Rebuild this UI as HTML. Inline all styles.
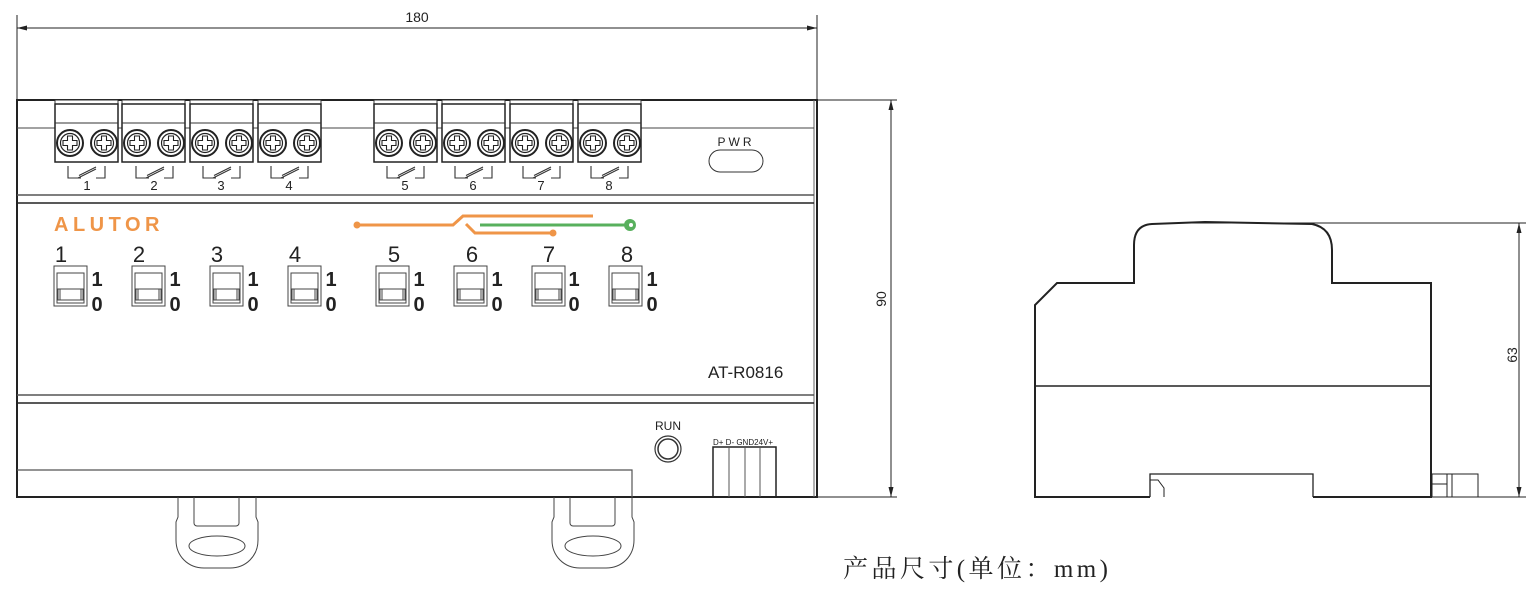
<!DOCTYPE html>
<html><head><meta charset="utf-8"><style>
html,body{margin:0;padding:0;background:#fff;width:1540px;height:592px;overflow:hidden}
svg{display:block}
text{font-family:"Liberation Sans",sans-serif;fill:#222}
</style></head><body>
<svg width="1540" height="592" viewBox="0 0 1540 592" xmlns="http://www.w3.org/2000/svg">
<defs>
<g id="term">
  <rect x="0" y="100" width="63" height="5" fill="#fff" stroke="#333" stroke-width="1"/>
  <rect x="0" y="104" width="63" height="58" fill="#fff" stroke="#222" stroke-width="1.5"/>
  <line x1="0" y1="123" x2="63" y2="123" stroke="#333"/>
  <g id="screw">
    <circle cx="15" cy="143" r="13" fill="#fff" stroke="#222" stroke-width="2"/>
    <circle cx="15" cy="143" r="9.5" fill="none" stroke="#222" stroke-width="1.2"/>
    <path d="M12.5 136h5v4.5h4.5v5h-4.5v4.5h-5v-4.5h-4.5v-5h4.5z" fill="none" stroke="#222" stroke-width="1.1"/>
  </g>
  <use href="#screw" x="34"/>
</g>
<g id="relay" fill="none" stroke="#333" stroke-width="1.1">
  <path d="M0 166v12h13"/>
  <path d="M10 178l18-9M11 175.5l17-8.5"/>
  <path d="M37 166v12h-9"/>
</g>
<g id="sw" fill="none" stroke="#444" stroke-width="1">
  <rect x="0" y="266" width="33" height="40"/>
  <rect x="3" y="273" width="27" height="30"/>
  <rect x="4" y="289" width="25" height="11"/>
  <line x1="6" y1="289" x2="6" y2="300"/><line x1="27" y1="289" x2="27" y2="300"/>
</g>
<g id="clip" fill="none" stroke="#444" stroke-width="1">
  <path d="M2 497v20l-2 5v18c0 16 12 28 28 28h26c16 0 28-12 28-28v-18l-2-5v-20"/>
  <path d="M18 497v26a3 3 0 0 0 3 3h39a3 3 0 0 0 3-3v-26"/>
  <ellipse cx="41" cy="546" rx="28" ry="10"/>
</g>
</defs>

<g stroke="#222" stroke-width="1" fill="none">
  <line x1="17" y1="15" x2="17" y2="100"/>
  <line x1="817" y1="15" x2="817" y2="100"/>
  <line x1="17" y1="28" x2="817" y2="28"/>
</g>
<path d="M17 28l10-2.5v5z M817 28l-10-2.5v5z" fill="#222"/>
<text x="417" y="22" font-size="14" text-anchor="middle">180</text>

<g fill="none" stroke="#222">
  <rect x="17" y="100" width="800" height="397" stroke-width="2"/>
  <line x1="814" y1="100" x2="814" y2="497" stroke="#666"/>
  <line x1="17" y1="128" x2="814" y2="128" stroke="#444"/>
  <line x1="17" y1="195" x2="814" y2="195" stroke="#555" stroke-width="1.5"/>
  <line x1="17" y1="203" x2="814" y2="203" stroke-width="1.5"/>
  <line x1="17" y1="395" x2="814" y2="395" stroke="#555" stroke-width="1.5"/>
  <line x1="17" y1="403" x2="814" y2="403" stroke-width="1.5"/>
  <path d="M17 470H632V497" stroke="#555" stroke-width="1.2"/>
</g>

<use href="#term" x="55"/><use href="#term" x="122"/><use href="#term" x="190"/><use href="#term" x="258"/>
<use href="#term" x="374"/><use href="#term" x="442"/><use href="#term" x="510"/><use href="#term" x="578"/>

<use href="#relay" x="68"/><use href="#relay" x="136"/><use href="#relay" x="203"/><use href="#relay" x="271"/>
<use href="#relay" x="387"/><use href="#relay" x="455"/><use href="#relay" x="523"/><use href="#relay" x="591"/>
<g font-size="13" text-anchor="middle">
<text x="87" y="190">1</text><text x="154" y="190">2</text><text x="221" y="190">3</text><text x="289" y="190">4</text>
<text x="405" y="190">5</text><text x="473" y="190">6</text><text x="541" y="190">7</text><text x="609" y="190">8</text>
</g>

<text x="736" y="146" font-size="12" text-anchor="middle" letter-spacing="3">PWR</text>
<rect x="709" y="150" width="54" height="22" rx="11" fill="none" stroke="#333"/>

<text x="54" y="231" font-size="20" font-weight="bold" letter-spacing="4.5" style="fill:#ef9548">ALUTOR</text>

<g fill="none" stroke-width="3">
  <path d="M357 225H453L463 216H593" stroke="#ef9548"/>
  <path d="M466 224L475 233H553" stroke="#ef9548"/>
  <path d="M480 225H630" stroke="#58b05d"/>
</g>
<circle cx="357" cy="225" r="3.5" fill="#ef9548"/>
<circle cx="553" cy="233" r="3.5" fill="#ef9548"/>
<circle cx="630" cy="225" r="6" fill="#58b05d"/>
<circle cx="631" cy="225" r="2" fill="#fff"/>

<g font-size="22" text-anchor="middle">
<text x="61" y="262">1</text><text x="139" y="262">2</text><text x="217" y="262">3</text><text x="295" y="262">4</text>
<text x="394" y="262">5</text><text x="472" y="262">6</text><text x="549" y="262">7</text><text x="627" y="262">8</text>
</g>
<use href="#sw" x="54"/><use href="#sw" x="132"/><use href="#sw" x="210"/><use href="#sw" x="288"/>
<use href="#sw" x="376"/><use href="#sw" x="454"/><use href="#sw" x="532"/><use href="#sw" x="609"/>
<g font-size="20" font-weight="bold" text-anchor="middle">
<text x="97" y="286">1</text><text x="97" y="311">0</text>
<text x="175" y="286">1</text><text x="175" y="311">0</text>
<text x="253" y="286">1</text><text x="253" y="311">0</text>
<text x="331" y="286">1</text><text x="331" y="311">0</text>
<text x="419" y="286">1</text><text x="419" y="311">0</text>
<text x="497" y="286">1</text><text x="497" y="311">0</text>
<text x="574" y="286">1</text><text x="574" y="311">0</text>
<text x="652" y="286">1</text><text x="652" y="311">0</text>
</g>

<text x="708" y="378" font-size="17">AT-R0816</text>

<text x="668" y="430" font-size="12" text-anchor="middle">RUN</text>
<circle cx="668" cy="449" r="13" fill="none" stroke="#333" stroke-width="1.2"/>
<circle cx="668" cy="449" r="10" fill="none" stroke="#333" stroke-width="1.5"/>

<text x="713" y="445" font-size="8">D+ D- GND24V+</text>
<rect x="713" y="447" width="63" height="50" fill="none" stroke="#222" stroke-width="1.5"/>
<g stroke="#555"><line x1="729" y1="447" x2="729" y2="497"/><line x1="745" y1="447" x2="745" y2="497"/><line x1="760" y1="447" x2="760" y2="497"/></g>

<use href="#clip" x="176"/><use href="#clip" x="552"/>

<g stroke="#222" fill="none">
  <line x1="817" y1="100" x2="897" y2="100"/>
  <line x1="817" y1="497" x2="897" y2="497"/>
  <line x1="891" y1="100" x2="891" y2="497"/>
</g>
<path d="M891 100l-2.5 10h5z M891 497l-2.5-10h5z" fill="#222"/>
<text x="0" y="0" font-size="14" text-anchor="middle" transform="translate(886 299) rotate(-90)">90</text>

<g fill="none" stroke="#222">
  <path d="M1150 497H1035V305L1057 283H1134V245Q1134 225 1152 224L1205 222L1312 224Q1332 228 1332 250V283H1431V497H1313" stroke-width="2"/>
  <line x1="1035" y1="386" x2="1431" y2="386" stroke-width="1.5"/>
  <path d="M1150 497V474H1313V497" stroke-width="1.3"/>
  <path d="M1150 480L1158 480L1164 488V497" stroke-width="1"/>
  <rect x="1432" y="474" width="46" height="23" stroke-width="1"/>
  <line x1="1447" y1="474" x2="1447" y2="497"/>
  <line x1="1452" y1="474" x2="1452" y2="497"/>
  <line x1="1432" y1="484" x2="1447" y2="484"/>
  <line x1="1190" y1="223" x2="1526" y2="223" stroke-width="1"/>
  <line x1="1478" y1="497" x2="1526" y2="497" stroke-width="1"/>
  <line x1="1519" y1="223" x2="1519" y2="497" stroke-width="1"/>
</g>
<path d="M1519 223l-2.5 10h5z M1519 497l-2.5-10h5z" fill="#222"/>
<text x="0" y="0" font-size="14" text-anchor="middle" transform="translate(1517 355) rotate(-90)">63</text>

<text x="843" y="577" font-size="25" textLength="265" lengthAdjust="spacing" style="font-family:'Liberation Serif','Noto Serif CJK SC',serif;fill:#222">产品尺寸(单位：mm)</text>
</svg>
</body></html>
